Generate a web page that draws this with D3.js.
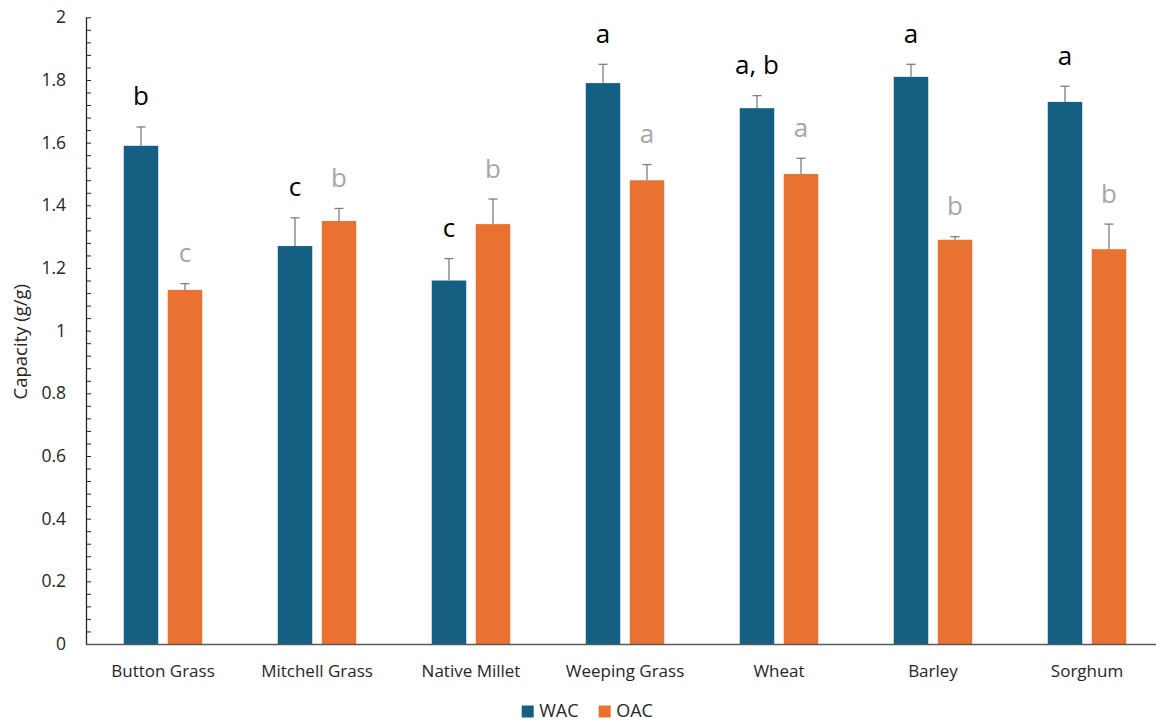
<!DOCTYPE html>
<html>
<head>
<meta charset="utf-8">
<script src="https://cdn.jsdelivr.net/npm/d3@7"></script>
<style>
  body { margin: 0; background: #fff; }
  svg { display: block; }
  .axis text { font-family: "Open Sans", sans-serif; fill: #262626; }
</style>
</head>
<body>
<div id="chart"></div>
<script>
'use strict';

// Data
var categories = ['Button Grass', 'Mitchell Grass', 'Native Millet', 'Weeping Grass', 'Wheat', 'Barley', 'Sorghum'];
var seriesNames = ['WAC', 'OAC'];
var wacValues = [1.59, 1.27, 1.16, 1.79, 1.71, 1.81, 1.73];
var wacErrors = [0.06, 0.09, 0.07, 0.06, 0.04, 0.04, 0.05];
var oacValues = [1.13, 1.35, 1.34, 1.48, 1.50, 1.29, 1.26];
var oacErrors = [0.02, 0.04, 0.08, 0.05, 0.05, 0.01, 0.08];
var wacLetters = ['b', 'c', 'c', 'a', 'a, b', 'a', 'a'];
var oacLetters = ['c', 'b', 'b', 'a', 'a', 'b', 'b'];
var yTickValues = [0, 0.2, 0.4, 0.6, 0.8, 1, 1.2, 1.4, 1.6, 1.8, 2];
var yMinorTicks = d3.range(0, 51).map(function(i) { return i * 0.04; });

var colors = { WAC: '#156082', OAC: '#E97132' };
var letterColors = { WAC: '#000000', OAC: '#A6A6A6' };

var width = 1156, height = 722;
var margin = { top: 17.3, left: 86, bottom: 78 };
var plotRight = 1164;   // plot area runs past the picture edge

var svg = d3.select('#chart')
  .append('svg')
  .attr('width', width)
  .attr('height', height);

// Scales
var x0 = d3.scaleBand()
  .domain(categories)
  .range([margin.left, plotRight])
  .padding(0);

var x1 = d3.scaleBand()
  .domain(seriesNames)
  .range([0, x0.bandwidth()])
  .paddingInner(0.216)
  .paddingOuter(0.858);

var y = d3.scaleLinear()
  .domain([0, 2])
  .range([height - margin.bottom, margin.top]);

// rows for each bar
var rows = [];
categories.forEach(function(c, i) {
  rows.push({ cat: c, s: 'WAC', v: wacValues[i], e: wacErrors[i], l: wacLetters[i] });
  rows.push({ cat: c, s: 'OAC', v: oacValues[i], e: oacErrors[i], l: oacLetters[i] });
});

// Bars
svg.append('g').attr('class', 'bars')
  .selectAll('rect')
  .data(rows)
  .enter()
  .append('rect')
  .attr('x', function(d) { return x0(d.cat) + x1(d.s); })
  .attr('y', function(d) { return y(d.v); })
  .attr('width', x1.bandwidth())
  .attr('height', function(d) { return y(0) - y(d.v); })
  .attr('fill', function(d) { return colors[d.s]; });

// Error bars
var err = svg.append('g').attr('class', 'errors')
  .selectAll('g')
  .data(rows)
  .enter()
  .append('g')
  .attr('stroke', '#7f7f7f')
  .attr('stroke-width', 1.3);

function cx(d) { return x0(d.cat) + x1(d.s) + x1.bandwidth() / 2; }

err.append('line')
  .attr('x1', cx).attr('x2', cx)
  .attr('y1', function(d) { return y(d.v); })
  .attr('y2', function(d) { return y(d.v + d.e); });

err.append('line')
  .attr('x1', function(d) { return cx(d) - 4.5; })
  .attr('x2', function(d) { return cx(d) + 4.5; })
  .attr('y1', function(d) { return y(d.v + d.e); })
  .attr('y2', function(d) { return y(d.v + d.e); });

// Significance letters
svg.append('g').attr('class', 'letters')
  .selectAll('text')
  .data(rows)
  .enter()
  .append('text')
  .attr('x', cx)
  .attr('y', function(d) { return y(d.v + d.e) - 21.5; })
  .attr('text-anchor', 'middle')
  .style('font-family', '"Open Sans", sans-serif')
  .style('font-size', '26px')
  .attr('fill', function(d) { return letterColors[d.s]; })
  .text(function(d) { return d.l; });

// Y axis: minor ticks inside
svg.append('g')
  .attr('class', 'y minor axis')
  .attr('transform', 'translate(' + margin.left + ',0)')
  .call(d3.axisLeft(y).tickValues(yMinorTicks).tickSize(-5).tickFormat(''))
  .call(function(g) {
    g.select('.domain').remove();
    g.selectAll('line').attr('stroke', '#262626');
  });

var yAxis = svg.append('g')
  .attr('class', 'y axis')
  .attr('transform', 'translate(' + margin.left + ',0)')
  .call(d3.axisLeft(y).tickValues(yTickValues).tickSize(0).tickPadding(20)
    .tickFormat(function(d) { return String(+d.toFixed(1)); }));
yAxis.select('.domain').attr('stroke', '#262626').attr('stroke-width', 1.3);
yAxis.selectAll('text').style('font-size', '17.5px');

// X axis
var xAxis = svg.append('g')
  .attr('class', 'x axis')
  .attr('transform', 'translate(0,' + y(0) + ')')
  .call(d3.axisBottom(x0).tickSize(0));
xAxis.select('.domain').attr('stroke', '#595959').attr('stroke-width', 1.3);
xAxis.selectAll('text')
  .attr('y', 33)
  .attr('dy', null)
  .style('font-size', '17px');

// Y title
svg.append('text')
  .attr('transform', 'translate(27,341.7) rotate(-90)')
  .attr('text-anchor', 'middle')
  .style('font-family', '"Open Sans", sans-serif')
  .style('font-size', '18.5px')
  .attr('fill', '#262626')
  .text('Capacity (g/g)');

// Legend
var legend = svg.append('g').attr('class', 'legend')
  .selectAll('g')
  .data(seriesNames)
  .enter()
  .append('g')
  .attr('transform', function(d, i) { return 'translate(' + (521.7 + i * 77) + ',705.5)'; });

legend.append('rect')
  .attr('width', 12)
  .attr('height', 12)
  .attr('fill', function(d) { return colors[d]; });

legend.append('text')
  .attr('x', 17.5)
  .attr('y', 11.5)
  .style('font-family', '"Open Sans", sans-serif')
  .style('font-size', '18px')
  .attr('fill', '#262626')
  .text(function(d) { return d; });
</script>
</body>
</html>
